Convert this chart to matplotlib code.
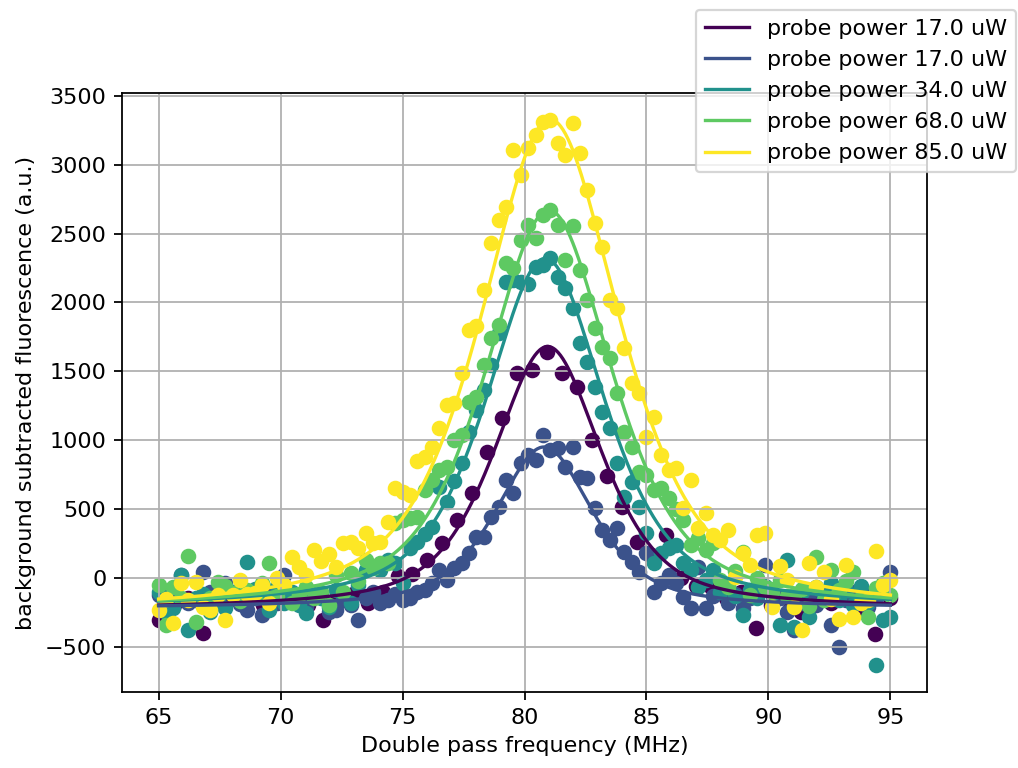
import numpy as np
import matplotlib
matplotlib.use("Agg")
from matplotlib import pyplot as plt

# ── Data ──────────────────────────────────────────────────────────────────────
powers = [17.0, 17.0, 34.0, 68.0, 85.0]

# frequency sweeps: 50 steps for the first run, 100 for the others
freq_coarse = np.linspace(65, 95, 50)
freq_fine = np.linspace(65, 95, 100)

fluor_17a = [
    -305, -200, -150, -400, -180, -150, -100, -200, -170, -130,
    -200, -305, -150, -120, -180, -100, 10, 30, 130, 254,
    421, 617, 915, 1162, 1489, 1510, 1643, 1489, 1389, 1002,
    736, 515, 261, 167, 312, 0, -60, -65, -150, -100,
    -363, -200, -150, -250, -120, -180, -100, -220, -407, -145,
]
fluor_17b = [
    -123, -200, -150, 22, -180, -160, 44, -100, -170, -36,
    -120, -190, -232, -150, -269, -120, -180, 22, -140, -160,
    -210, -120, -109, -250, -232, -160, -200, -305, -150, -100,
    -182, -160, -120, -160,
    -145, -100, -87, -40, 58,
    -15, 73, 109, 182, 298, 298, 443, 516, 712, 617,
    835, 893, 857, 1038,
    930, 944, 806, 951, 733, 726, 508, 349, 276, 363,
    189, 116, 44, 182, -102, -36, 22, -36, -138, -218,
    80, -218,
    -130, -100, -182, -120, -218, -150, -100, 94, -200, -150,
    -247, -378, -180, -120, -200, -120, -341, -501, -160, -100,
    -73, -210, -150, -90, 44,
]
fluor_34 = [
    -100, -250, -218, 22, -378, -150, -120, -250, -160, -218,
    -100, -150, 116, -80, -130, -232, -60, -180, -100, -200,
    -254, -100, -150, -210, -90, -110, -182, -51, 58, 80,
    60, 131, 109, -36, 218, 261, 320, 370, 661, 552,
    700, 835, 1060, 1220, 1365, 1547, 1780,
    2150, 2164, 2150, 2135, 2259, 2273, 2324, 2186, 2106, 1960,
    1707, 1569, 1387, 1205, 1089, 835, 588, 697, 515, 327,
    109, 182, 218, 240, 109, 58, -65, -15, 58,
    -100, -60, -130, -269, -90, -150, -60, -120, -341, 131,
    -356, -100, -283, -70, -130, -40, -160, -90, -200, -60,
    -180, -632, -305, -283,
]
fluor_68 = [
    -51, -341, -65, -150, 160, -320, -200, -150, -29, -60,
    -110, -170, -90, -140, -40, 109, -130, -60, -182, -123,
    -70, -150, -102, -196, 22, -102, 36, -20, 131, 70,
    109, 109,
    399, 421, 436, 443, 640, 712, 784, 806, 1002, 1038,
    1278, 1314, 1547, 1743,
    1837, 2288, 2251, 2455, 2564, 2469, 2636, 2672, 2564, 2309,
    2557, 2237, 2019, 1815, 1678, 1598, 1343, 1060, 951, 770,
    748, 639, 654, 581, 500, 421, 240, 290, 200, 254,
    -15, -65, 50, 189, -123, 0, -65, -100, -15, -130,
    -123, -80, -203, 152, -160, 58, -90, -20, 44, -150,
    -283, -73, -40, -123,
]
fluor_85 = [
    -232, -152, -327, -36, -160, -29, -210, -232, -123, -305,
    -123, -15, -116, -109, -51, -182, 0, -51, 152, 80,
    22, 200, 120, 170, 80, 254, 261, 218, 327, 250,
    261, 407, 653, 620, 600, 845, 880, 950, 1089, 1256,
    1271, 1489, 1800, 1830, 2091, 2430,
    2600, 2694, 3108, 2927, 3122, 3217, 3311, 3326, 3159, 3072,
    3304, 3086, 2818, 2578, 2404, 2019, 1960, 1670, 1416, 1343,
    1024, 1169, 893, 784, 798, 508, 712, 363, 472, 312,
    276, 350, 7, 182, 94, 312, 327, -210, 87, -15,
    -210, -378, 109, -65, 44, -152, -298, 94, -283, -182,
    -160, 196, -51, -15,
]

# fitted peak parameters (pseudo-Voigt): centre, amplitude, half width, offset
fit_center = [80.95, 80.8, 80.85, 81.0, 81.05]
fit_amp = [1910, 1170, 2540, 2900, 3580]
fit_hwhm = [2.65, 2.4, 2.9, 3.1, 3.4]
fit_offset = [-230, -220, -220, -230, -250]
fit_eta = 0.62

freqs = [freq_coarse, freq_fine, freq_fine, freq_fine, freq_fine]
fluors = [fluor_17a, fluor_17b, fluor_34, fluor_68, fluor_85]


def peak(x, x0, amp, hw, off):
    u = (x - x0) / hw
    lor = 1.0 / (1.0 + u ** 2)
    gau = np.exp(-np.log(2) * u ** 2)
    return off + amp * (fit_eta * lor + (1 - fit_eta) * gau)


# ── Plot ───────────────────────────────────────────────────────────────────────
fig = plt.figure(figsize=(1018 / 160, 768 / 160), dpi=160)
ax = fig.add_axes([122 / 1018, 1 - 692 / 768, 805 / 1018, 599 / 768])

colors = plt.cm.viridis(np.linspace(0, 1, len(powers)))
x_fit = np.linspace(65, 95, 600)

for k, p in enumerate(powers):
    ax.scatter(freqs[k], fluors[k], color=colors[k])
    ax.plot(x_fit, peak(x_fit, fit_center[k], fit_amp[k], fit_hwhm[k], fit_offset[k]),
            color=colors[k], label=f"probe power {p} uW")

ax.set_xlim(63.5, 96.5)
ax.set_ylim(-830, 3522)
ax.grid(True)
ax.set_xlabel("Double pass frequency (MHz)")
ax.set_ylabel("background subtracted fluorescence (a.u.)")

fig.legend(loc="upper right", bbox_to_anchor=(1016 / 1018, 1 - 10 / 768),
           borderaxespad=0)

fig.savefig("out.png", dpi=160)
